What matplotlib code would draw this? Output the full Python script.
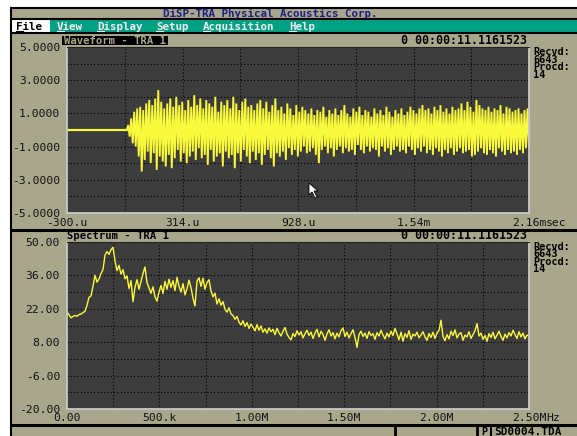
import numpy as np
import matplotlib.pyplot as plt
from matplotlib.patches import Rectangle, Polygon
from matplotlib.transforms import blended_transform_factory

plt.rcParams['font.family'] = 'DejaVu Sans Mono'

# --- acquisition data -------------------------------------------------------
# waveform: time window in microseconds, burst starts at the trigger
wave_t0 = -300.0
wave_t1 = 2160.0
trigger_us = 18.0
# signed peak values of the burst (volts), alternating swings
wave_peaks = [
    0.3, -0.4, 0.7, -0.8, 1.1, -1.0, 1.3, -1.6,
    1.4, -2.5, 1.2, -1.8, 1.6, -1.3, 1.8, -2.0,
    1.5, -1.4, 1.9, -2.4, 2.4, -1.6, 1.7, -1.9, 1.3, -2.2,
    1.6, -1.5, 1.9, -2.3, 1.4, -1.7, 2.0, -1.2, 1.5, -1.9,
    1.7, -1.4, 1.2, -2.0, 1.8, -1.6, 1.4, -1.3, 2.1, -1.8, 1.5, -1.1, 1.9, -1.7,
    1.3, -1.5, 1.8, -2.1, 1.6, -1.2, 1.4, -1.9, 2.0, -1.6, 1.1, -1.4, 1.7, -2.2, 1.5, -1.3,
    1.8, -1.7, 1.3, -1.5, 2.0, -2.3, 1.6, -1.4, 1.2, -1.9, 1.7, -1.2, 1.9, -1.6, 1.4, -2.0, 1.5, -1.3,
    1.2, -1.8, 1.6, -1.4, 1.8, -2.1, 1.3, -1.5, 1.7, -1.2, 1.1, -1.7, 1.5, -2.2, 1.9, -1.4, 1.2, -1.6,
    1.4, -1.3, 1.0, -1.8, 1.6, -1.1, 1.3, -1.5, 0.9, -1.2, 1.5, -1.6, 1.1, -1.3, 1.4, -1.0, 1.2, -1.4,
    1.0, -1.3, 1.3, -1.1, 0.9, -1.5, 1.2, -2.0, 1.1, -1.2, 1.4, -1.0, 0.8, -1.4, 1.2, -1.1, 1.0, -1.6, 1.3, -1.2,
    0.9, -1.0, 1.2, -1.4, 1.5, -1.1, 1.0, -1.3, 0.8, -1.2, 1.3, -1.5, 1.1, -0.9, 1.4, -1.2, 0.9, -1.4, 1.2, -1.0,
    1.1, -1.3, 0.8, -1.1, 1.3, -1.2, 1.0, -1.6, 1.2, -1.0, 0.9, -1.3, 1.4, -1.1, 1.1, -1.5, 0.8, -1.2, 1.2, -1.0,
    1.0, -1.3, 1.3, -1.2, 0.9, -1.4, 1.1, -1.0, 1.4, -1.2, 1.2, -1.5, 1.0, -1.1, 1.3, -1.3, 1.5, -1.0, 1.2, -1.4,
    1.3, -1.2, 1.0, -1.5, 1.4, -1.1, 1.2, -1.3, 1.5, -1.6, 1.1, -1.2, 1.3, -1.4, 1.0, -1.1, 1.4, -1.5, 1.2, -1.3,
    1.3, -1.1, 1.6, -1.4, 1.2, -1.3, 1.7, -1.2, 1.4, -1.6, 1.1, -1.5, 1.8, -1.3, 1.5, -1.1, 1.3, -1.4, 1.2, -1.5,
    1.4, -1.2, 1.1, -1.4, 1.3, -1.6, 1.2, -1.1, 1.5, -1.3, 1.0, -1.5, 1.4, -1.2, 1.3, -1.4, 1.1, -1.3, 1.2, -1.5,
    1.3, -1.2, 1.0, -1.4, 1.2, -1.1, 1.3, -1.0,
]

# spectrum: 0 .. 2.5 MHz, magnitude in dB
spec_f1 = 2.5e6
spectrum_db = [
    20.7, 19.5, 18.2, 18.8, 19.2, 18.9, 19.6, 19.8, 20.4, 21.0,
    23.5, 26.8, 27.4, 31.5, 36.0, 33.2, 34.5, 36.8, 38.5, 44.5,
    46.0, 44.8, 46.8, 47.8, 42.0, 38.0, 40.2, 36.5, 38.4, 34.6,
    35.8, 30.5, 33.8, 25.0, 31.0, 34.2, 30.2, 33.5, 36.8, 39.5,
    33.0, 30.8, 28.5, 31.2, 27.0, 25.2, 29.0, 31.8, 28.4, 33.5,
    30.2, 34.4, 31.0, 33.8, 29.6, 35.2, 31.5, 29.0, 32.6, 27.8,
    30.4, 34.0, 30.8, 26.5, 23.2, 33.6, 35.0, 31.4, 34.8, 30.2,
    33.0, 34.2, 29.5, 27.0, 28.6, 24.0, 26.2, 23.5, 25.0, 21.8,
    20.6, 22.4, 19.8, 19.2, 17.6, 18.8, 16.4, 15.2, 17.0, 14.6,
    16.2, 13.8, 15.6, 14.2, 12.8, 15.4, 13.0, 14.8, 12.2, 13.6,
    11.8, 14.0, 12.4, 13.4, 11.2, 13.8, 12.0, 10.6, 12.6, 14.2,
    11.4, 10.0, 9.0, 11.6, 10.4, 12.8, 11.0, 12.4, 9.8, 11.6,
    13.0, 10.8, 12.2, 9.6, 11.8, 13.4, 10.2, 12.6, 11.2, 8.8,
    11.4, 13.2, 10.6, 12.0, 9.4, 11.8, 10.2, 12.8, 14.0, 10.4,
    12.2, 9.8, 11.6, 13.2, 10.0, 5.8, 11.2, 12.6, 10.4, 11.8,
    9.6, 12.4, 10.8, 11.6, 9.2, 12.0, 10.6, 13.0, 11.0, 9.4,
    11.8, 10.2, 12.6, 10.8, 13.8, 11.4, 9.0, 12.2, 8.4, 11.6,
    10.0, 12.8, 9.2, 11.4, 10.6, 12.2, 9.8, 11.0, 12.4, 10.2,
    8.8, 11.6, 10.0, 12.2, 9.6, 11.8, 13.0, 17.2, 10.4, 8.6,
    11.2, 9.4, 12.6, 10.8, 13.2, 9.8, 11.4, 12.0, 8.8, 11.0,
    10.2, 12.4, 9.6, 11.2, 12.8, 15.8, 10.6, 11.8, 9.2, 10.8,
    8.4, 11.6, 10.0, 12.2, 9.4, 11.0, 12.6, 10.4, 8.8, 11.4,
    9.8, 12.0, 10.6, 13.0, 11.2, 9.6, 12.4, 10.2, 11.8, 9.4,
    11.0, 10.6,
]

# axis labels
wave_yticks = [5, 3, 1, -1, -3, -5]
wave_xlabels = ['-300.u', '314.u', '928.u', '1.54m', '2.16m']
spec_yticks = [50, 36, 22, 8, -6, -20]
spec_xlabels = ['0.00', '500.k', '1.00M', '1.50M', '2.00M', '2.50M']
menu_items = ['File', 'View', 'Display', 'Setup', 'Acquisition', 'Help']
stamp = '0 00:00:11.1161523'
counters = ['Recvd:', '6643', 'Procd:', '14']

# --- colours ----------------------------------------------------------------
KHAKI = '#a9a78b'
TEAL = '#00a084'
PLOTBG = '#3d3d3d'
TRACE = '#fafa3c'
NAVY = '#1e1e88'
W, H = 577, 436
PX = 100 / 72  # pixels per point

fig = plt.figure(figsize=(W / 100, H / 100), dpi=100)
fig.patch.set_facecolor('white')

# screen layer in pixel coordinates (y down)
scr = fig.add_axes([0, 0, 1, 1])
scr.set_xlim(0, W)
scr.set_ylim(H, 0)
scr.axis('off')


def box(x0, y0, x1, y1, fc, ec='none', lw=0):
    scr.add_patch(Rectangle((x0, y0), x1 - x0, y1 - y0, fc=fc, ec=ec, lw=lw))


def hline(y, x0=10, x1=W, lw=1.5):
    scr.plot([x0, x1], [y, y], color='black', lw=lw, solid_capstyle='butt')


# background screen
box(10, 8, W, H, KHAKI)
box(10, 19, W, 33, TEAL)
hline(8.5)
hline(19)
hline(33.5)
hline(229.5, lw=2.2)
hline(425, lw=2.2)
scr.plot([10.5, 10.5], [8, H], color='black', lw=1.5)

# title bar
scr.text(270, 14, 'DiSP-TRA Physical Acoustics Corp.', ha='center', va='center',
         color=NAVY, fontsize=7.8, fontweight='bold')

# menu bar
box(11, 20, 50, 32.5, 'white')
menu_x = [16, 57, 97, 156, 203, 289]
cw = 7.8 * 0.602 * PX
for name, mx in zip(menu_items, menu_x):
    col = 'black' if name == 'File' else '#eeeeee'
    scr.text(mx, 26.5, name, ha='left', va='center', color=col,
             fontsize=7.8, fontweight='bold')
    scr.plot([mx, mx + cw], [31, 31], color=col, lw=0.8)

# status bar
scr.plot([395, 395], [426, H], color='black', lw=2)
scr.plot([477, 477], [426, H], color='black', lw=2)
scr.plot([491, 491], [426, H], color='black', lw=1.5)
scr.text(481, 435, 'P', ha='left', va='baseline', fontsize=7.4, fontweight='bold')
scr.text(494, 435, 'SD0004.TDA', ha='left', va='baseline', fontsize=8, fontweight='bold')


def plot_axes(x0, y0, x1, y1):
    ax = fig.add_axes([x0 / W, 1 - y1 / H, (x1 - x0) / W, (y1 - y0) / H])
    ax.set_facecolor(PLOTBG)
    for side in ['left', 'right', 'bottom']:
        ax.spines[side].set_color('#c8c8c8')
        ax.spines[side].set_linewidth(1.3)
    ax.spines['top'].set_color('#222222')
    ax.tick_params(length=0, labelsize=8.2, pad=5, labelcolor='#111111')
    ax.grid(True, color='black', linestyle=(0, (1, 2)), linewidth=0.8)
    ax.set_axisbelow(True)
    return ax


def xlabels(ax, ticks, labels, unit, ypos):
    tr = blended_transform_factory(ax.transData, ax.transAxes)
    for t, lab in zip(ticks, labels):
        ax.text(t, ypos, lab, transform=tr, ha='center', va='center',
                fontsize=8.2, color='#111111', clip_on=False)
    half = len(labels[-1]) * 0.602 * 8.2 / 2
    ax.annotate(unit, xy=(ticks[-1], ypos), xycoords=tr, xytext=(half, 0),
                textcoords='offset points', ha='left', va='center',
                fontsize=8.2, color='#111111', annotation_clip=False)


def panel_text(ytop, stamp_y):
    scr.text(527, stamp_y, stamp, ha='right', va='center',
             fontsize=8.4, fontweight='bold')
    # acquisition counters, one block of four short lines
    scr.text(533, ytop - 4, '\n'.join(counters), ha='left', va='top',
             fontsize=7.4, fontweight='bold', linespacing=0.7)


# --- waveform ---------------------------------------------------------------
ax1 = plot_axes(67, 47, 529, 213)
burst_t = np.linspace(trigger_us, wave_t1, len(wave_peaks) + 1)[1:]
ax1.plot([wave_t0, trigger_us], [0, 0], color=TRACE, lw=1.6)
ax1.plot(np.r_[trigger_us, burst_t], np.r_[0, wave_peaks], color=TRACE, lw=1.35,
         solid_joinstyle='miter')
ax1.set_xlim(wave_t0, wave_t1)
ax1.set_ylim(-5, 5)
ax1.set_yticks(np.arange(-5, 6, 1))
ax1.set_yticklabels(['%.4f' % v if v in wave_yticks else '' for v in np.arange(-5, 6, 1)])
wave_grid = np.linspace(wave_t0, wave_t1, 9)
ax1.set_xticks(wave_grid)
ax1.set_xticklabels([])
xlabels(ax1, wave_grid[::2], wave_xlabels, 'sec', -0.062)

title_fs = 7.6
title = 'Waveform - TRA 1'
box(62, 36.5, 64 + len(title) * 0.602 * title_fs * PX + 2, 45.5, 'black')
scr.text(64, 41, title, ha='left', va='center', color=KHAKI,
         fontsize=title_fs, fontweight='bold')
panel_text(51, 41)

# --- spectrum ---------------------------------------------------------------
ax2 = plot_axes(67, 242, 529, 409)
freqs = np.linspace(0, spec_f1, len(spectrum_db))
ax2.plot(freqs, spectrum_db, color=TRACE, lw=1.0)
ax2.set_xlim(0, spec_f1)
ax2.set_ylim(-20, 50)
ygrid = np.arange(-20, 51, 7)
ax2.set_yticks(ygrid)
ax2.set_yticklabels(['%.2f' % v if v in spec_yticks else '' for v in ygrid])
spec_grid = np.linspace(0, spec_f1, 11)
ax2.set_xticks(spec_grid)
ax2.set_xticklabels([])
xlabels(ax2, spec_grid[::2], spec_xlabels, 'Hz', -0.054)

scr.text(67, 235.5, 'Spectrum - TRA 1', ha='left', va='center',
         fontsize=title_fs, fontweight='bold')
panel_text(245.5, 235.5)

# mouse pointer over the waveform
ptr = fig.add_axes([0, 0, 1, 1], facecolor='none')
ptr.set_xlim(0, W)
ptr.set_ylim(H, 0)
ptr.axis('off')
ptr.add_patch(Polygon([(309, 183), (309, 195), (312, 192), (315, 198), (317, 197),
                       (314, 191), (318, 191)], closed=True, fc='white', ec='black', lw=0.6))

fig.savefig('out.png', dpi=100)
